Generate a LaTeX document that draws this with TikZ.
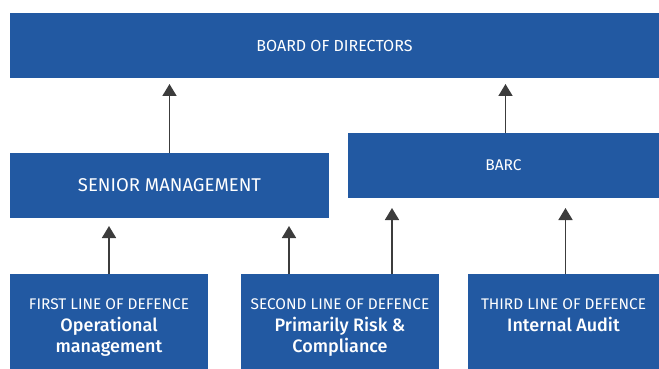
\documentclass[tikz,border=0pt]{standalone}
\usepackage{fontspec}
\setsansfont{Fira Sans}[BoldFont={Fira Sans Medium}]
\usepackage{xcolor}
\usepackage{tikz}
\usetikzlibrary{arrows.meta, positioning, calc}
\definecolor{orgblue}{HTML}{2259A2}
\definecolor{arrowgray}{HTML}{3C3C3C}
\newcommand{\defname}[1]{{\fontsize{18}{21.5}\selectfont\bfseries #1}}

\begin{document}
\begin{tikzpicture}[
  x=1pt, y=-1pt,
  orgbox/.style={rectangle, fill=orgblue, draw=none, outer sep=0pt, inner sep=0pt, anchor=north west, text=white, font=\sffamily},
  linetitle/.style={anchor=north, inner sep=0pt, text=white, align=center, font=\fontsize{15.4}{21.5}\selectfont\sffamily},
  uparrow/.style={-{Triangle[width=14pt,length=12pt]}, line width=1.6pt, draw=arrowgray, shorten >=#1},
  uparrow/.default=8pt
]
  \useasboundingbox (0,0) rectangle (659,369);

  % top level
  \node[orgbox, minimum width=649pt, minimum height=65pt, font=\fontsize{16}{18}\selectfont\sffamily] (board) at (10,13) {BOARD OF DIRECTORS};

  % middle level
  \node[orgbox, minimum width=319pt, minimum height=65pt, font=\fontsize{18.5}{20}\selectfont\sffamily] (senior) at (10,153) {SENIOR MANAGEMENT};
  \node[orgbox, minimum width=311pt, minimum height=65pt, font=\fontsize{15.5}{18}\selectfont\sffamily] (barc) at (348,133) {BARC};

  % lines of defence
  \node[orgbox, minimum width=198pt, minimum height=95pt] (first) at (10,274) {};
  \node[linetitle] at ([yshift=-25pt]first.north) {FIRST LINE OF DEFENCE\\\defname{Operational}\\\defname{management}};
  \node[orgbox, minimum width=198pt, minimum height=95pt] (second) at (241,274) {};
  \node[linetitle] at ([yshift=-25pt]second.north) {SECOND LINE OF DEFENCE\\\defname{Primarily Risk \&}\\\defname{Compliance}};
  \node[orgbox, minimum width=191pt, minimum height=95pt] (third) at (468,274) {};
  \node[linetitle] at ([yshift=-25pt]third.north) {THIRD LINE OF DEFENCE\\\defname{Internal Audit}};

  % reporting lines
  \draw[uparrow=6pt] (senior.north) -- (senior.north |- board.south);
  \draw[uparrow=6pt] ([xshift=2pt]barc.north) -- ([xshift=2pt]barc.north |- board.south);
  \draw[uparrow] (first.north) -- (first.north |- senior.south);
  \draw[uparrow] ([xshift=-51pt]second.north) -- ([xshift=-51pt]second.north |- senior.south);
  \draw[uparrow=10pt] ([xshift=52pt]second.north) -- ([xshift=52pt]second.north |- barc.south);
  \draw[uparrow=10pt] ([xshift=2pt]third.north) -- ([xshift=2pt]third.north |- barc.south);
\end{tikzpicture}
\end{document}
